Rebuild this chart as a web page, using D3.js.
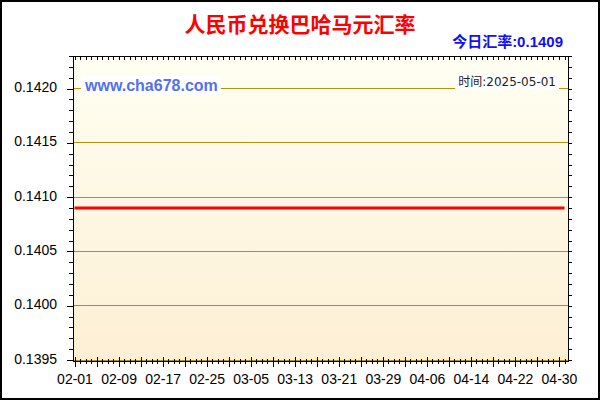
<!DOCTYPE html>
<html>
<head>
<meta charset="utf-8">
<script src="https://cdn.jsdelivr.net/npm/d3@7"></script>
<style>
  body { margin: 0; background: #fff; }
  svg { display: block; }
  .axis path, .axis line { stroke: #000; shape-rendering: crispEdges; }
  .axis text { font-family: "Liberation Sans", Arial, sans-serif; font-size: 14px; fill: #000; }
  .grid line { stroke: #b8900a; shape-rendering: crispEdges; }
</style>
</head>
<body>
<div id="chart"></div>
<script>
// chart text
const chartTitle = "人民币兑换巴哈马元汇率"
const rateLabel = "今日汇率:0.1409"
const siteLabel = "www.cha678.com"
const timeLabel = "时间:2025-05-01"

// one value per day, 2025-02-01 .. 2025-05-01
const firstDay = "2025-02-01"
const lastDay = "2025-05-01"
const rates = [
  0.1409, 0.1409, 0.1409, 0.1409, 0.1409, 0.1409, 0.1409, 0.1409, 0.1409, 0.1409,
  0.1409, 0.1409, 0.1409, 0.1409, 0.1409, 0.1409, 0.1409, 0.1409, 0.1409, 0.1409,
  0.1409, 0.1409, 0.1409, 0.1409, 0.1409, 0.1409, 0.1409, 0.1409, 0.1409, 0.1409,
  0.1409, 0.1409, 0.1409, 0.1409, 0.1409, 0.1409, 0.1409, 0.1409, 0.1409, 0.1409,
  0.1409, 0.1409, 0.1409, 0.1409, 0.1409, 0.1409, 0.1409, 0.1409, 0.1409, 0.1409,
  0.1409, 0.1409, 0.1409, 0.1409, 0.1409, 0.1409, 0.1409, 0.1409, 0.1409, 0.1409,
  0.1409, 0.1409, 0.1409, 0.1409, 0.1409, 0.1409, 0.1409, 0.1409, 0.1409, 0.1409,
  0.1409, 0.1409, 0.1409, 0.1409, 0.1409, 0.1409, 0.1409, 0.1409, 0.1409, 0.1409,
  0.1409, 0.1409, 0.1409, 0.1409, 0.1409, 0.1409, 0.1409, 0.1409, 0.1409, 0.1409
]

// tick labels
const xTickLabels = ["02-01", "02-09", "02-17", "02-25", "03-05", "03-13",
  "03-21", "03-29", "04-06", "04-14", "04-22", "04-30"]
const yTickLabels = ["0.1395", "0.1400", "0.1405", "0.1410", "0.1415", "0.1420"]
const yMin = 0.1395
const yMax = 0.1423

const width = 600
const height = 400
const plot = { left: 73, right: 568, top: 56, bottom: 360 }

const parseDay = d3.utcParse("%Y-%m-%d")
const start = parseDay(firstDay)
const end = parseDay(lastDay)
const days = d3.utcDay.range(start, d3.utcDay.offset(end, 1))
const series = days.map((d, i) => ({ date: d, value: rates[i] }))

const x = d3.scaleUtc()
  .domain([start, end])
  .range([74.5, 564.5])

const y = d3.scaleLinear()
  .domain([yMin, yMax])
  .range([plot.bottom, plot.top])

const xLabelTicks = xTickLabels.map(s => parseDay("2025-" + s))
const xMajorTicks = d3.utcDay.range(start, d3.utcDay.offset(end, 1), 4)
const yMajorTicks = yTickLabels.map(Number)
const yMinorTicks = y.ticks(28)

const svg = d3.select("#chart").append("svg")
  .attr("width", width)
  .attr("height", height)

// plot background
const grad = svg.append("defs").append("linearGradient")
  .attr("id", "bg")
  .attr("x1", 0).attr("y1", 0).attr("x2", 0).attr("y2", 1)
grad.append("stop").attr("offset", "0%").attr("stop-color", "#fffff2")
grad.append("stop").attr("offset", "100%").attr("stop-color", "#fdefd4")

svg.append("rect")
  .attr("x", plot.left)
  .attr("y", plot.top)
  .attr("width", plot.right - plot.left)
  .attr("height", plot.bottom - plot.top + 1)
  .attr("fill", "url(#bg)")

// horizontal grid
svg.append("g")
  .attr("class", "grid")
  .selectAll("line")
  .data(yMajorTicks)
  .join("line")
    .attr("x1", plot.left)
    .attr("x2", plot.right)
    .attr("y1", d => y(d))
    .attr("y2", d => y(d))

// watermark + date boxes over the grid
function boxedText (sel) {
  const box = sel.node().getBBox()
  svg.insert("rect", () => sel.node())
    .attr("x", box.x - 3)
    .attr("y", box.y - 1)
    .attr("width", box.width + 6)
    .attr("height", box.height + 2)
    .attr("fill", "#fff")
}

const site = svg.append("text")
  .attr("x", 85)
  .attr("y", 91)
  .attr("font-family", "'Liberation Sans', Arial, sans-serif")
  .attr("font-weight", "bold")
  .attr("font-size", 16)
  .attr("fill", "#5470f0")
  .text(siteLabel)
boxedText(site)

const stamp = svg.append("text")
  .attr("x", 556)
  .attr("y", 86)
  .attr("text-anchor", "end")
  .attr("font-family", "'DejaVu Sans', 'Noto Sans CJK SC', sans-serif")
  .attr("font-size", 12)
  .attr("fill", "#222")
  .text(timeLabel)
boxedText(stamp)

// rate line
const line = d3.line()
  .x(d => x(d.date))
  .y(d => y(d.value))

svg.append("path")
  .datum(series)
  .attr("fill", "none")
  .attr("stroke", "#ff0000")
  .attr("stroke-width", 3)
  .attr("d", line)

// axes
const bottomY = plot.bottom + 1

// left
svg.append("g")
  .attr("class", "axis")
  .attr("transform", `translate(${plot.left},0)`)
  .call(d3.axisLeft(y).tickValues(yMinorTicks).tickSize(4).tickSizeOuter(0).tickFormat(""))
  .call(g => g.selectAll(".tick line").attr("x2", -4).attr("x1", 1))
  .call(g => g.select(".domain").attr("d", `M0.5,${plot.top}V${bottomY + 1}`))

svg.append("g")
  .attr("class", "axis")
  .attr("transform", `translate(${plot.left},0)`)
  .call(d3.axisLeft(y).tickValues(yMajorTicks).tickSize(6).tickPadding(10).tickSizeOuter(0)
    .tickFormat((d, i) => yTickLabels[i]))
  .call(g => g.select(".domain").remove())
  .call(g => g.selectAll("text").attr("dy", "0.22em"))

// right
svg.append("g")
  .attr("class", "axis")
  .attr("transform", `translate(${plot.right},0)`)
  .call(d3.axisRight(y).tickValues(yMinorTicks).tickSize(4).tickSizeOuter(0).tickFormat(""))
  .call(g => g.select(".domain").attr("d", `M0.5,${plot.top}V${bottomY + 1}`))

// top, ticks pointing in
svg.append("g")
  .attr("class", "axis")
  .attr("transform", `translate(0,${plot.top})`)
  .call(d3.axisBottom(x).tickValues(days).tickSize(4).tickSizeOuter(0).tickFormat(""))
  .call(g => g.select(".domain").attr("d", `M${plot.left},0.5H${plot.right + 1}`))

// bottom: minor and major ticks cross the axis line
svg.append("g")
  .attr("class", "axis")
  .attr("transform", `translate(0,${bottomY})`)
  .call(d3.axisBottom(x).tickValues(days).tickSize(3).tickSizeOuter(0).tickFormat(""))
  .call(g => g.selectAll(".tick line").attr("y1", -2))
  .call(g => g.select(".domain").attr("d", `M${plot.left},0.5H${plot.right + 1}`))

svg.append("g")
  .attr("class", "axis")
  .attr("transform", `translate(0,${bottomY})`)
  .call(d3.axisBottom(x).tickValues(xMajorTicks).tickSize(6).tickSizeOuter(0).tickFormat(""))
  .call(g => g.selectAll(".tick line").attr("y1", -4))
  .call(g => g.select(".domain").remove())

svg.append("g")
  .attr("class", "axis")
  .attr("transform", `translate(0,${bottomY})`)
  .call(d3.axisBottom(x).tickValues(xLabelTicks).tickSize(6).tickPadding(7).tickSizeOuter(0)
    .tickFormat((d, i) => xTickLabels[i]))
  .call(g => g.select(".domain").remove())
  .call(g => g.selectAll(".tick line").remove())

// titles
svg.append("text")
  .attr("x", 300)
  .attr("y", 32)
  .attr("text-anchor", "middle")
  .attr("font-family", "'Noto Sans CJK SC', sans-serif")
  .attr("font-weight", "bold")
  .attr("font-size", 21)
  .attr("fill", "#ff0000")
  .text(chartTitle)

svg.append("text")
  .attr("x", 563)
  .attr("y", 47)
  .attr("text-anchor", "end")
  .attr("font-family", "'Liberation Sans', 'Noto Sans CJK SC', sans-serif")
  .attr("font-weight", "bold")
  .attr("font-size", 15)
  .attr("fill", "#1010f0")
  .text(rateLabel)

// outer frame
svg.append("rect")
  .attr("x", 1)
  .attr("y", 1)
  .attr("width", width - 2)
  .attr("height", height - 2)
  .attr("fill", "none")
  .attr("stroke", "#000")
  .attr("stroke-width", 2)
</script>
</body>
</html>
